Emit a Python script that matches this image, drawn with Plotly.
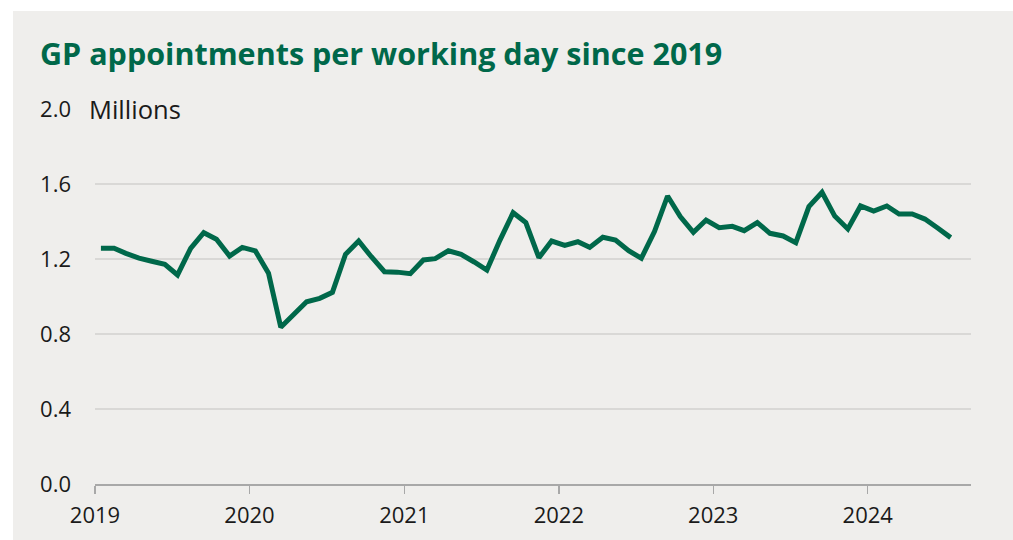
import pandas as pd
import plotly.graph_objects as go

# GP appointments per working day (millions), monthly Jan 2019 - Jul 2024
appointments = [
    1.257, 1.257, 1.230, 1.205, 1.188, 1.172, 1.115, 1.257, 1.340, 1.305, 1.216, 1.262,  # 2019
    1.243, 1.124, 0.836, 0.905, 0.972, 0.990, 1.022, 1.225, 1.296, 1.212, 1.132, 1.130,  # 2020
    1.122, 1.195, 1.202, 1.244, 1.225, 1.184, 1.141, 1.301, 1.447, 1.394, 1.207, 1.296,  # 2021
    1.273, 1.292, 1.262, 1.316, 1.301, 1.244, 1.204, 1.346, 1.536, 1.426, 1.342, 1.408,  # 2022
    1.367, 1.374, 1.351, 1.394, 1.337, 1.323, 1.287, 1.479, 1.556, 1.429, 1.360, 1.483,  # 2023
    1.456, 1.483, 1.440, 1.440, 1.413, 1.364, 1.314,                                      # 2024
]
months = pd.date_range("2019-01-01", periods=len(appointments), freq="MS") + pd.Timedelta(days=14)
year_ticks = ["2019-01-01", "2020-01-01", "2021-01-01", "2022-01-01", "2023-01-01", "2024-01-01"]
year_labels = ["2019", "2020", "2021", "2022", "2023", "2024"]
y_ticks = [0.0, 0.4, 0.8, 1.2, 1.6, 2.0]

title_text = "GP appointments per working day since 2019"
unit_text = "Millions"

GREEN = "#00684a"
PANEL = "#efeeec"
FONT = "Open Sans, Noto Sans, sans-serif"

W, H = 1013, 540
L, R, T, B = 95, 42, 109, 56
PW, PH = W - L - R, H - T - B

fig = go.Figure()
fig.add_trace(go.Scatter(
    x=months, y=appointments, mode="lines",
    line=dict(color=GREEN, width=5),
    hoverinfo="skip", showlegend=False,
))

fig.update_layout(
    width=W, height=H,
    margin=dict(l=L, r=R, t=T, b=B),
    paper_bgcolor=PANEL, plot_bgcolor=PANEL,
    font=dict(family=FONT, size=22, color="#1a1a1a"),
    title=dict(
        text="<b>" + title_text + "</b>",
        x=40 / W, xanchor="left", xref="container",
        y=1 - 54 / H, yanchor="middle", yref="container",
        font=dict(family=FONT, size=30.5, color=GREEN),
    ),
    xaxis=dict(
        type="date",
        range=["2019-01-01", "2024-09-01"],
        tickvals=year_ticks, ticktext=year_labels,
        showgrid=False, zeroline=False,
        showline=True, linecolor="#a8a8a8", linewidth=1.5,
        ticks="outside", ticklen=8, tickwidth=1.5, tickcolor="#a8a8a8",
        ticklabelstandoff=3,
        tickfont=dict(size=22, color="#1a1a1a"),
        fixedrange=True,
    ),
    yaxis=dict(
        range=[0, 2.0],
        tickvals=y_ticks, tickformat=".1f",
        showgrid=True, gridcolor="#d9d8d6", gridwidth=1.5,
        zeroline=False, showline=False, ticks="",
        ticklabelstandoff=23,
        tickfont=dict(size=22, color="#1a1a1a"),
        fixedrange=True,
    ),
    shapes=[
        # white page margin above and left of the grey panel
        dict(type="rect", xref="paper", yref="paper",
             x0=-0.2, x1=1.2, y0=(H - B - 11) / PH, y1=1.5,
             fillcolor="white", line=dict(width=0), layer="above"),
        dict(type="rect", xref="paper", yref="paper",
             x0=-0.2, x1=(13 - L) / PW, y0=-0.3, y1=1.5,
             fillcolor="white", line=dict(width=0), layer="above"),
    ],
    annotations=[
        dict(text=unit_text, xref="paper", yref="y",
             x=(78 - L) / PW, y=2.0, xanchor="left", yanchor="middle",
             showarrow=False, bgcolor=PANEL, borderpad=10,
             font=dict(family=FONT, size=25.5, color="#1a1a1a")),
    ],
)

page_css = (
    "document.body.style.margin='0';"
    "document.body.style.overflow='hidden';"
    "document.body.style.background='" + PANEL + "';"
    "document.documentElement.style.background='" + PANEL + "';"
    "document.documentElement.style.overflow='hidden';"
)

fig.write_html(
    "out.html",
    config={"displayModeBar": False, "staticPlot": True},
    post_script=page_css,
)
